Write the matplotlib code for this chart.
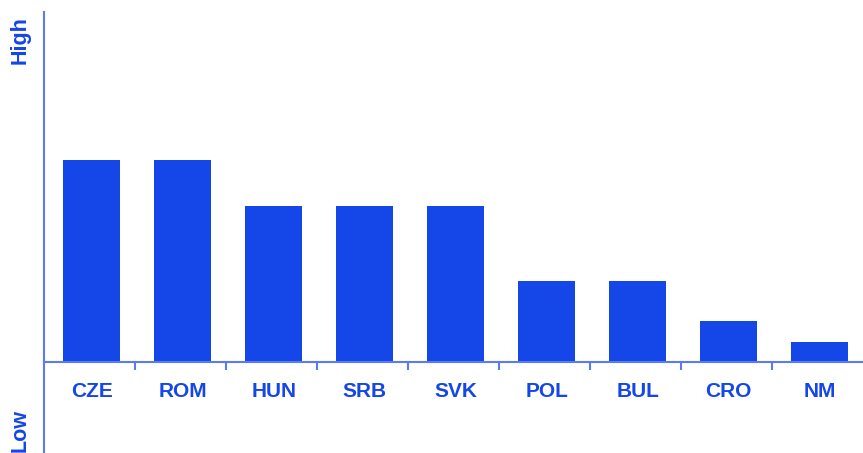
import matplotlib
matplotlib.use("Agg")
import matplotlib.pyplot as plt

countries = ["CZE", "ROM", "HUN", "SRB", "SVK", "POL", "BUL", "CRO", "NM"]
values = [202, 202, 156, 156, 156, 81, 81, 41, 20]

blue = "#1446e8"
axis_blue = "#5a7cf0"

plt.rcParams["font.family"] = ["Liberation Sans", "DejaVu Sans"]

fig = plt.figure(figsize=(8.63, 4.53), dpi=100)
ax = fig.add_axes([44 / 863, 0, 1 - 44 / 863, 1 - 12 / 453])

x = list(range(len(countries)))
ax.bar([i + 0.025 for i in x], values, width=0.63, color=blue, zorder=2)

ax.set_xlim(-0.5, len(countries) - 0.5)
ax.set_ylim(-91, 350)

for s in ["top", "right"]:
    ax.spines[s].set_visible(False)
ax.spines["left"].set_color(axis_blue)
ax.spines["left"].set_linewidth(1.5)
ax.spines["bottom"].set_position(("data", 0))
ax.spines["bottom"].set_color(axis_blue)
ax.spines["bottom"].set_linewidth(1.5)

# boundary ticks between categories, labels centred on bars
ax.set_xticks([i + 0.5 for i in x[:-1]])
ax.set_xticklabels([])
ax.tick_params(axis="x", which="major", direction="out", length=6,
               width=1.5, color=axis_blue)
ax.set_xticks([i + 0.025 for i in x], minor=True)
ax.set_xticklabels(countries, minor=True, fontsize=15, fontweight="bold",
                   color=blue)
ax.tick_params(axis="x", which="minor", length=0, pad=14.5)
ax.set_yticks([])

fig.text(20 / 863, 1 - 40 / 453, "High", rotation=90, ha="center", va="center",
         fontsize=15.5, fontweight="bold", color=blue)
fig.text(20 / 863, 1 / 453, "Low", rotation=90, ha="center", va="bottom",
         fontsize=15.5, fontweight="bold", color=blue)

fig.savefig("out.png", dpi=100)
